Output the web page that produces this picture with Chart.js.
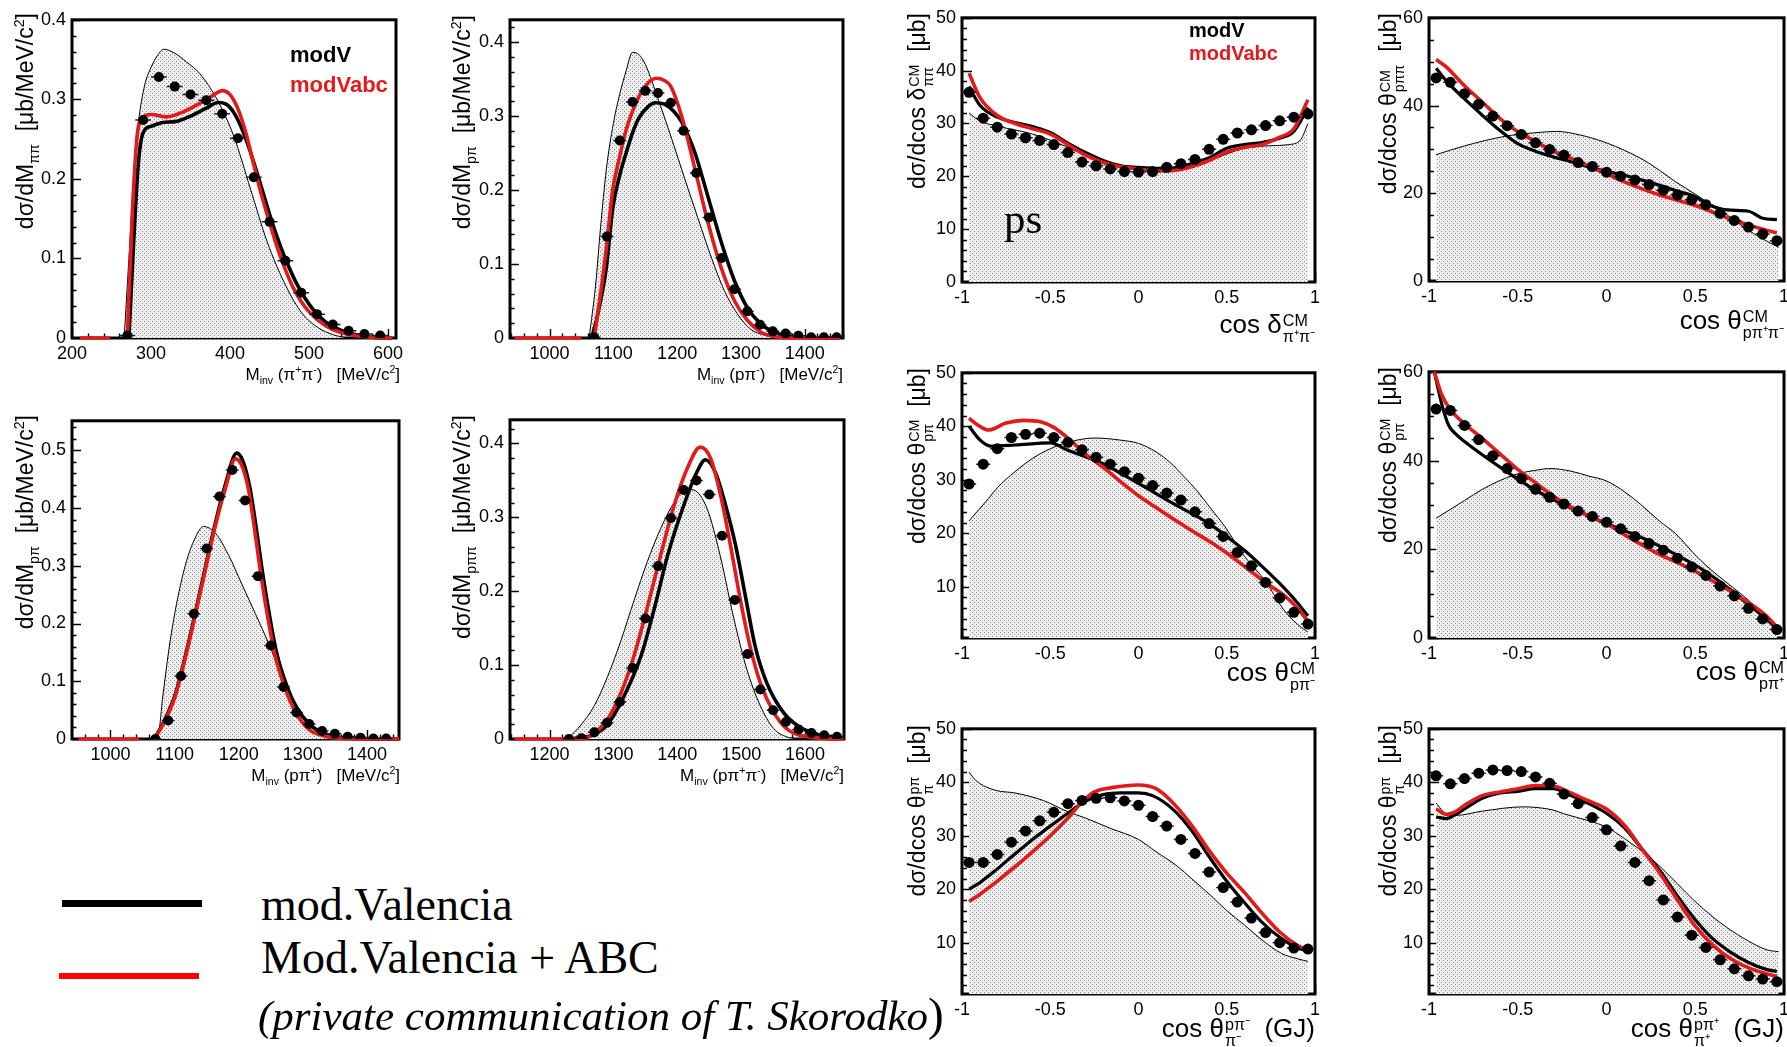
<!DOCTYPE html>
<html>
<head>
<meta charset="utf-8">
<title>pp - two pion production, differential distributions</title>
<script src="https://cdn.jsdelivr.net/npm/chart.js@4.4.1/dist/chart.umd.min.js"></script>
<style>
  body { margin: 0; width: 1787px; height: 1047px; overflow: hidden; position: relative; background: #fff;
         font-family: 'Liberation Sans', Arial, sans-serif; color: #000; }
  canvas { position: absolute; }
  .t { position: absolute; white-space: nowrap; line-height: 1; }
  .yt { transform-origin: 0 0; transform: rotate(-90deg) translateX(-100%); }
  .xr { transform: translateX(-100%); }
  sub, sup { font-size: 0.62em; line-height: 0; }
  .ss { display: inline-block; vertical-align: -0.55em; font-size: 0.62em; line-height: 1; margin-left: 1px; }
  .ss span { display: block; }
  .serif { font-family: 'Liberation Serif', 'Times New Roman', serif; }
  .key { position: absolute; }
</style>
</head>
<body>
<div id="plots"></div>

<!-- y axis titles -->
<div class="t yt" style="left:14px;top:13px;font-size:23px">dσ/dM<sub>ππ</sub>&nbsp;&nbsp;[μb/MeV/c<sup>2</sup>]</div>
<div class="t yt" style="left:451px;top:15px;font-size:23px">dσ/dM<sub>pπ</sub>&nbsp;&nbsp;[μb/MeV/c<sup>2</sup>]</div>
<div class="t yt" style="left:14px;top:415px;font-size:23px">dσ/dM<sub>pπ</sub>&nbsp;&nbsp;[μb/MeV/c<sup>2</sup>]</div>
<div class="t yt" style="left:451px;top:415px;font-size:23px">dσ/dM<sub>pππ</sub>&nbsp;&nbsp;[μb/MeV/c<sup>2</sup>]</div>
<div class="t yt" style="left:906px;top:13px;font-size:23px">dσ/dcos δ<span class="ss"><span>CM</span><span>ππ</span></span>&nbsp;&nbsp;[μb]</div>
<div class="t yt" style="left:1377px;top:13px;font-size:23px">dσ/dcos θ<span class="ss"><span>CM</span><span>pππ</span></span>&nbsp;&nbsp;[μb]</div>
<div class="t yt" style="left:906px;top:368px;font-size:23px">dσ/dcos θ<span class="ss"><span>CM</span><span>pπ</span></span>&nbsp;&nbsp;[μb]</div>
<div class="t yt" style="left:1377px;top:367px;font-size:23px">dσ/dcos θ<span class="ss"><span>CM</span><span>pπ</span></span>&nbsp;&nbsp;[μb]</div>
<div class="t yt" style="left:906px;top:725px;font-size:23px">dσ/dcos θ<span class="ss"><span>pπ</span><span>π</span></span>&nbsp;&nbsp;[μb]</div>
<div class="t yt" style="left:1377px;top:725px;font-size:23px">dσ/dcos θ<span class="ss"><span>pπ</span><span>π</span></span>&nbsp;&nbsp;[μb]</div>

<!-- x axis titles -->
<div class="t xr" style="left:400px;top:366px;font-size:17px">M<sub>inv</sub> (π<sup>+</sup>π<sup>-</sup>)&nbsp;&nbsp;&nbsp;[MeV/c<sup>2</sup>]</div>
<div class="t xr" style="left:843px;top:366px;font-size:17px">M<sub>inv</sub> (pπ<sup>-</sup>)&nbsp;&nbsp;&nbsp;[MeV/c<sup>2</sup>]</div>
<div class="t xr" style="left:400px;top:767px;font-size:17px">M<sub>inv</sub> (pπ<sup>+</sup>)&nbsp;&nbsp;&nbsp;[MeV/c<sup>2</sup>]</div>
<div class="t xr" style="left:844px;top:767px;font-size:17px">M<sub>inv</sub> (pπ<sup>+</sup>π<sup>-</sup>)&nbsp;&nbsp;&nbsp;[MeV/c<sup>2</sup>]</div>
<div class="t xr" style="left:1315px;top:311px;font-size:26px">cos δ<span class="ss"><span>CM</span><span>π⁺π⁻</span></span></div>
<div class="t xr" style="left:1784px;top:307px;font-size:26px">cos θ<span class="ss"><span>CM</span><span>pπ⁺π⁻</span></span></div>
<div class="t xr" style="left:1315px;top:659px;font-size:26px">cos θ<span class="ss"><span>CM</span><span>pπ⁻</span></span></div>
<div class="t xr" style="left:1784px;top:658px;font-size:26px">cos θ<span class="ss"><span>CM</span><span>pπ⁺</span></span></div>
<div class="t xr" style="left:1315px;top:1015px;font-size:26px">cos θ<span class="ss"><span>pπ⁻</span><span>π⁻</span></span>&nbsp;&nbsp;(GJ)</div>
<div class="t xr" style="left:1784px;top:1015px;font-size:26px">cos θ<span class="ss"><span>pπ⁺</span><span>π⁺</span></span>&nbsp;&nbsp;(GJ)</div>

<!-- labels inside the frames -->
<div class="t" style="left:290px;top:44px;font-size:22px;font-weight:bold">modV</div>
<div class="t" style="left:290px;top:74px;font-size:22px;font-weight:bold;color:#e31a1c">modVabc</div>
<div class="t" style="left:1189px;top:20px;font-size:20px;font-weight:bold">modV</div>
<div class="t" style="left:1189px;top:43px;font-size:20px;font-weight:bold;color:#e31a1c">modVabc</div>
<div class="t serif" style="left:1004px;top:197px;font-size:43px">ps</div>

<!-- legend, bottom left -->
<div class="key" style="left:62px;top:900px;width:140px;height:7px;background:#000"></div>
<div class="key" style="left:59px;top:973px;width:140px;height:6px;background:#f00"></div>
<div class="t serif" style="left:261px;top:882px;font-size:46px">mod.Valencia</div>
<div class="t serif" style="left:261px;top:935px;font-size:46px">Mod.Valencia + ABC</div>
<div class="t serif" style="left:258px;top:991px;font-size:43px;font-style:italic">(private communication of T. Skorodko<span style="font-style:normal;font-size:1.1em">)</span></div>

<script>
'use strict';

// ---------------- data ----------------

// panel A : M_inv(pi+ pi-)
var aBins = [270, 290, 310, 330, 350, 370, 390, 410, 430, 450, 470, 490, 510, 530, 550, 570, 590];
var aData = [0.003, 0.274, 0.328, 0.316, 0.306, 0.299, 0.282, 0.251, 0.202, 0.146, 0.097, 0.057, 0.030, 0.017, 0.009, 0.005, 0.003];
var aModV = [[272, 0], [278, 0.12], [284, 0.22], [290, 0.258], [300, 0.266], [315, 0.271], [330, 0.272], [350, 0.279], [370, 0.289],
  [385, 0.296], [395, 0.294], [405, 0.283], [415, 0.263], [425, 0.236], [435, 0.205], [445, 0.172], [455, 0.14], [465, 0.112],
  [475, 0.088], [485, 0.067], [495, 0.05], [505, 0.036], [520, 0.021], [540, 0.01], [560, 0.004], [580, 0.001], [605, 0]];
var aModVabc = [[210, 0], [248, 0], [258, null], [270, 0], [276, 0.15], [282, 0.25], [288, 0.276], [300, 0.281], [320, 0.278],
  [340, 0.284], [360, 0.294], [380, 0.306], [390, 0.311], [400, 0.306], [410, 0.288], [420, 0.258], [430, 0.218], [440, 0.179],
  [450, 0.145], [460, 0.113], [470, 0.086], [480, 0.063], [490, 0.046], [500, 0.033], [520, 0.016], [540, 0.007], [560, 0.003],
  [580, 0.001], [605, 0]];
var aPhaseSpace = [[266, 0], [272, 0.1], [278, 0.2], [284, 0.27], [292, 0.318], [300, 0.34], [308, 0.355], [316, 0.363], [330, 0.358],
  [345, 0.347], [362, 0.332], [384, 0.299], [405, 0.253], [426, 0.187], [447, 0.121], [468, 0.071], [489, 0.034], [510, 0.014],
  [531, 0.004], [548, 0]];
var aTicksX = [200, 300, 400, 500, 600];
var aTicksY = [0, 0.1, 0.2, 0.3, 0.4];

// panel B : M_inv(p pi-)
var bBins = [1070, 1090, 1110, 1130, 1150, 1170, 1190, 1210, 1230, 1250, 1270, 1290, 1310, 1330, 1350, 1370, 1390, 1410, 1430, 1450];
var bData = [0.001, 0.137, 0.267, 0.319, 0.334, 0.331, 0.318, 0.28, 0.223, 0.163, 0.108, 0.066, 0.036, 0.018, 0.009, 0.006, 0.003, 0.001, 0.001, 0.001];
var bModV = [[1066, 0], [1075, 0.03], [1089, 0.095], [1099, 0.175], [1110, 0.22], [1120, 0.25], [1130, 0.277], [1140, 0.297],
  [1155, 0.313], [1166, 0.318], [1180, 0.316], [1195, 0.306], [1207, 0.292], [1218, 0.272], [1228, 0.25], [1248, 0.192],
  [1269, 0.13], [1290, 0.077], [1310, 0.041], [1331, 0.019], [1352, 0.008], [1372, 0.003], [1400, 0.001], [1455, 0]];
var bModVabc = [[945, 0], [1050, 0], [1060, null], [1070, 0], [1080, 0.06], [1089, 0.121], [1099, 0.2], [1110, 0.245], [1120, 0.281],
  [1140, 0.326], [1155, 0.345], [1168, 0.351], [1180, 0.348], [1190, 0.34], [1207, 0.3], [1228, 0.228], [1248, 0.157],
  [1269, 0.095], [1290, 0.05], [1310, 0.024], [1331, 0.008], [1352, 0.002], [1380, 0], [1455, 0]];
var bPhaseSpace = [[1062, 0], [1072, 0.07], [1080, 0.15], [1089, 0.228], [1100, 0.29], [1109, 0.326], [1120, 0.361], [1130, 0.386],
  [1140, 0.383], [1150, 0.37], [1171, 0.321], [1192, 0.268], [1212, 0.215], [1233, 0.161], [1254, 0.108], [1274, 0.064],
  [1295, 0.032], [1315, 0.012], [1336, 0.004], [1355, 0]];
var bTicksX = [1000, 1100, 1200, 1300, 1400];
var bTicksY = [0, 0.1, 0.2, 0.3, 0.4];

// panel C : M_inv(p pi+)
var cBins = [1070, 1090, 1110, 1130, 1150, 1170, 1190, 1210, 1230, 1250, 1270, 1290, 1310, 1330, 1350, 1370, 1390, 1410, 1430];
var cData = [0, 0.032, 0.109, 0.217, 0.33, 0.42, 0.466, 0.413, 0.282, 0.162, 0.09, 0.046, 0.026, 0.014, 0.009, 0.004, 0.002, 0.001, 0.001];
var cModV = [[1068, 0], [1081, 0.025], [1101, 0.077], [1122, 0.168], [1143, 0.272], [1164, 0.376], [1179, 0.44], [1197, 0.495],
  [1207, 0.48], [1218, 0.432], [1228, 0.36], [1238, 0.282], [1249, 0.208], [1259, 0.15], [1275, 0.092], [1290, 0.055],
  [1310, 0.026], [1330, 0.011], [1351, 0.004], [1380, 0.001], [1450, 0]];
var cModVabc = [[950, 0], [1045, 0], [1055, null], [1068, 0], [1081, 0.023], [1101, 0.074], [1122, 0.165], [1143, 0.268],
  [1164, 0.371], [1179, 0.433], [1195, 0.485], [1205, 0.473], [1216, 0.428], [1226, 0.353], [1236, 0.274], [1247, 0.2],
  [1257, 0.143], [1273, 0.086], [1288, 0.048], [1309, 0.017], [1330, 0.006], [1351, 0.002], [1380, 0], [1450, 0]];
var cPhaseSpace = [[1060, 0], [1075, 0.011], [1081, 0.068], [1091, 0.154], [1101, 0.222], [1117, 0.302], [1132, 0.348], [1145, 0.368],
  [1164, 0.356], [1184, 0.319], [1205, 0.268], [1226, 0.217], [1247, 0.165], [1268, 0.108], [1288, 0.063], [1309, 0.029],
  [1330, 0.011], [1351, 0.003], [1372, 0]];
var cTicksX = [1000, 1100, 1200, 1300, 1400];
var cTicksY = [0, 0.1, 0.2, 0.3, 0.4, 0.5];

// panel D : M_inv(p pi+ pi-)
var dBins = [1230, 1250, 1270, 1290, 1310, 1330, 1350, 1370, 1390, 1410, 1430, 1450, 1470, 1490, 1510, 1530, 1550, 1570, 1590, 1610, 1630, 1650];
var dData = [0, 0.001, 0.009, 0.022, 0.05, 0.096, 0.163, 0.234, 0.299, 0.337, 0.35, 0.331, 0.275, 0.188, 0.115, 0.067, 0.039, 0.023, 0.013, 0.008, 0.005, 0.003];
var dModV = [[1230, 0], [1270, 0.006], [1291, 0.02], [1312, 0.05], [1343, 0.112], [1365, 0.18], [1385, 0.249], [1410, 0.316],
  [1430, 0.36], [1444, 0.378], [1460, 0.36], [1475, 0.318], [1491, 0.263], [1508, 0.187], [1522, 0.125], [1540, 0.076],
  [1566, 0.036], [1590, 0.017], [1610, 0.009], [1630, 0.004], [1660, 0.001]];
var dModVabc = [[1145, 0], [1250, 0], [1270, 0.008], [1291, 0.027], [1312, 0.063], [1332, 0.112], [1353, 0.178], [1374, 0.249],
  [1395, 0.316], [1415, 0.365], [1436, 0.395], [1452, 0.38], [1468, 0.329], [1483, 0.263], [1499, 0.187], [1514, 0.125],
  [1530, 0.076], [1551, 0.036], [1571, 0.014], [1592, 0.005], [1613, 0.002], [1640, 0], [1660, 0]];
var dPhaseSpace = [[1228, 0], [1249, 0.019], [1270, 0.045], [1291, 0.085], [1312, 0.134], [1332, 0.187], [1353, 0.24], [1374, 0.285],
  [1395, 0.32], [1415, 0.338], [1426, 0.337], [1447, 0.311], [1468, 0.245], [1488, 0.165], [1509, 0.094], [1530, 0.045],
  [1551, 0.014], [1571, 0.003], [1590, 0]];
var dTicksX = [1200, 1300, 1400, 1500, 1600];
var dTicksY = [0, 0.1, 0.2, 0.3, 0.4];

// angular panels share the same binning in cos
var cosBins = [-0.96, -0.88, -0.8, -0.72, -0.64, -0.56, -0.48, -0.4, -0.32, -0.24, -0.16, -0.08, 0,
  0.08, 0.16, 0.24, 0.32, 0.4, 0.48, 0.56, 0.64, 0.72, 0.8, 0.88, 0.96];
var cosTicks = [-1, -0.5, 0, 0.5, 1];

// panel E : cos delta_pipi (CM)
var eData = [35.9, 31.0, 29.3, 28.0, 27.3, 26.8, 26.0, 24.5, 22.7, 22.0, 21.4, 20.9, 20.8, 20.9, 21.7, 22.4, 23.2, 25.1, 27.0, 28.2, 28.8, 29.6, 30.5, 31.2, 31.8];
var eModV = [[-0.96, 37], [-0.9, 33.5], [-0.8, 31.2], [-0.7, 30.2], [-0.6, 29.4], [-0.5, 28.3], [-0.4, 26.3], [-0.3, 24.5], [-0.2, 23],
  [-0.1, 22], [0, 21.7], [0.1, 21.5], [0.2, 21.6], [0.3, 22.4], [0.4, 23.5], [0.5, 25.3], [0.6, 26], [0.7, 26.4], [0.8, 27.2],
  [0.88, 28.5], [0.96, 33]];
var eModVabc = [[-0.96, 39.5], [-0.9, 35], [-0.8, 31.5], [-0.7, 30], [-0.6, 29], [-0.5, 28], [-0.4, 26], [-0.3, 24], [-0.2, 22.6],
  [-0.1, 21.8], [0, 21.4], [0.1, 21], [0.2, 21.1], [0.3, 21.8], [0.4, 23], [0.5, 24.6], [0.6, 25.5], [0.7, 26], [0.8, 27.4],
  [0.88, 29], [0.96, 34.5]];
var ePhaseSpace = [[-0.96, 32], [-0.9, 30.5], [-0.8, 29.5], [-0.6, 28], [-0.4, 25.5], [-0.2, 22.5], [0, 21.3], [0.2, 21.3], [0.4, 23],
  [0.6, 25.3], [0.75, 25.8], [0.85, 26], [0.92, 27], [0.96, 30]];
var eTicksY = [0, 10, 20, 30, 40, 50];

// panel F : cos theta_p pi pi (CM)
var fData = [46.3, 45.3, 42.7, 40.3, 37.6, 35.4, 33.4, 31.5, 30.0, 28.7, 27.0, 26.1, 24.8, 23.9, 23.0, 22.0, 20.7, 19.6, 18.5, 17.4, 15.4, 13.8, 12.3, 10.7, 9.2];
var fModV = [[-0.96, 48.5], [-0.9, 45.5], [-0.8, 41.5], [-0.7, 37.8], [-0.6, 34.3], [-0.5, 31.3], [-0.4, 29.6], [-0.3, 28.3], [-0.2, 27.2],
  [-0.1, 26], [0, 25], [0.1, 24.1], [0.2, 23], [0.3, 21.8], [0.4, 20.5], [0.5, 19.2], [0.57, 17.5], [0.68, 16.2], [0.8, 15.9],
  [0.88, 14.3], [0.96, 14]];
var fModVabc = [[-0.96, 50.5], [-0.9, 48.7], [-0.8, 44.5], [-0.7, 40.8], [-0.6, 37], [-0.5, 34], [-0.4, 31.8], [-0.3, 29.6], [-0.2, 28],
  [-0.1, 26.2], [0, 24.4], [0.1, 22.6], [0.2, 21], [0.3, 19.6], [0.4, 18.4], [0.5, 17.2], [0.6, 15.7], [0.7, 14.1], [0.8, 12.8],
  [0.9, 11.6], [0.96, 11]];
var fPhaseSpace = [[-0.96, 28.8], [-0.8, 30.8], [-0.57, 33], [-0.4, 33.8], [-0.28, 34.1], [-0.15, 33.3], [0, 31.5], [0.1, 29.8],
  [0.2, 27.8], [0.3, 25.2], [0.39, 22.6], [0.5, 19.8], [0.59, 17.4], [0.7, 14.5], [0.78, 12.1], [0.88, 9.6], [0.97, 7.7]];
var fTicksY = [0, 20, 40, 60];

// panel G : cos theta_p pi- (CM)
var gData = [29.2, 32.9, 35.8, 37.9, 38.5, 38.7, 37.9, 37.0, 35.6, 34.2, 32.9, 31.5, 30.3, 28.9, 27.5, 26.2, 24.0, 21.8, 19.4, 16.4, 13.9, 10.8, 7.9, 5.2, 3.0];
var gModV = [[-0.96, 40], [-0.9, 37.5], [-0.84, 36.3], [-0.7, 36.5], [-0.5, 36.9], [-0.4, 35.5], [-0.3, 34.3], [-0.2, 33], [-0.1, 31.2],
  [0, 29.3], [0.1, 27.4], [0.2, 25.5], [0.3, 23.7], [0.4, 21.8], [0.5, 19.4], [0.6, 16.8], [0.7, 13.8], [0.8, 10.6], [0.9, 7],
  [0.96, 4.5]];
var gModVabc = [[-0.96, 41.5], [-0.9, 40], [-0.85, 39.3], [-0.75, 40.6], [-0.65, 41.1], [-0.55, 40.8], [-0.48, 39.8], [-0.4, 37.8],
  [-0.3, 34.8], [-0.2, 32.3], [-0.1, 29.6], [0, 27], [0.1, 24.8], [0.2, 22.6], [0.3, 20.5], [0.41, 18.3], [0.5, 16.3], [0.6, 13.8],
  [0.73, 10.5], [0.82, 8.5], [0.9, 6], [0.96, 3.5]];
var gPhaseSpace = [[-0.96, 22.3], [-0.85, 26.5], [-0.8, 28.5], [-0.7, 31.5], [-0.6, 34], [-0.5, 35.8], [-0.4, 37], [-0.25, 37.8],
  [-0.1, 37.4], [0, 36.8], [0.1, 35.2], [0.18, 33.2], [0.26, 30.5], [0.33, 28], [0.41, 24.6], [0.49, 21.2], [0.6, 15.7],
  [0.72, 11], [0.82, 5.8], [0.9, 3], [0.96, 1.5]];
var gTicksY = [10, 20, 30, 40, 50];

// panel H : cos theta_p pi+ (CM)
var hData = [51.6, 51.3, 47.9, 44.7, 41.1, 38.2, 35.9, 33.5, 31.7, 30.2, 28.6, 27.4, 26.1, 24.6, 22.9, 21.3, 19.8, 18.0, 16.0, 14.1, 11.7, 9.5, 6.7, 4.3, 1.9];
var hModV = [[-0.97, 60], [-0.93, 53], [-0.89, 48], [-0.85, 46], [-0.8, 44.3], [-0.7, 41.3], [-0.6, 38.5], [-0.5, 35.8], [-0.4, 33.3],
  [-0.3, 31.2], [-0.2, 29.3], [-0.1, 27.6], [0, 25.8], [0.1, 24.2], [0.2, 22.6], [0.3, 20.7], [0.4, 18.6], [0.5, 16.4], [0.6, 13.8],
  [0.7, 10.8], [0.8, 7.5], [0.9, 4.3], [0.96, 2]];
var hModVabc = [[-0.97, 60], [-0.93, 55], [-0.88, 51.5], [-0.8, 48.3], [-0.7, 45], [-0.6, 41.5], [-0.5, 38], [-0.4, 35], [-0.3, 32],
  [-0.2, 29.5], [-0.1, 27.5], [0, 25.7], [0.1, 23.3], [0.2, 21], [0.3, 18.8], [0.4, 17], [0.5, 15], [0.6, 12.8], [0.7, 10.5],
  [0.8, 8], [0.9, 5], [0.96, 2.5]];
var hPhaseSpace = [[-0.96, 27], [-0.9, 28.5], [-0.8, 31], [-0.7, 33.5], [-0.6, 35.5], [-0.5, 37], [-0.4, 37.8], [-0.32, 38.2],
  [-0.2, 37.6], [-0.1, 36.5], [0, 35.4], [0.1, 33], [0.19, 30.2], [0.3, 26.3], [0.39, 23.5], [0.51, 18.3], [0.6, 15], [0.68, 12.4],
  [0.8, 8.5], [0.9, 4.5], [0.96, 2]];
var hTicksY = [0, 20, 40, 60];

// panel I : cos theta_pi- (Gottfried-Jackson, p pi- frame)
var iData = [25.0, 25.0, 26.5, 28.8, 30.9, 32.8, 34.4, 36.0, 36.6, 37.0, 37.1, 36.5, 35.7, 33.6, 31.8, 29.3, 26.7, 23.2, 20.3, 17.6, 14.6, 11.9, 10.0, 9.0, 8.8];
var iModV = [[-0.96, 20], [-0.9, 21.2], [-0.8, 23.8], [-0.7, 26.6], [-0.6, 29.3], [-0.5, 31.8], [-0.4, 34.2], [-0.3, 36.5], [-0.2, 37.7],
  [-0.1, 38], [0, 38], [0.08, 37.5], [0.2, 34.8], [0.3, 31], [0.41, 25.6], [0.5, 21.5], [0.6, 17.5], [0.7, 13.8], [0.8, 11],
  [0.9, 9], [0.96, 8.5]];
var iModVabc = [[-0.96, 17.7], [-0.9, 19], [-0.8, 21.5], [-0.7, 24.2], [-0.6, 27], [-0.5, 30], [-0.4, 33.3], [-0.32, 36.3],
  [-0.25, 38.2], [-0.15, 39], [0, 39.5], [0.1, 38.8], [0.2, 36], [0.3, 32], [0.41, 26.8], [0.5, 23], [0.6, 19.4], [0.7, 15.5],
  [0.8, 12], [0.9, 9.5], [0.96, 8.5]];
var iPhaseSpace = [[-0.96, 41.9], [-0.92, 40.3], [-0.81, 38.5], [-0.7, 38], [-0.54, 36.6], [-0.4, 34.5], [-0.3, 33.3], [-0.16, 31.4],
  [0, 29.3], [0.1, 27], [0.22, 24.3], [0.3, 22], [0.41, 18.8], [0.5, 16], [0.6, 13.3], [0.7, 10.5], [0.81, 8], [0.9, 7], [0.96, 6.5]];
var iTicksY = [10, 20, 30, 40, 50];

// panel J : cos theta_pi+ (Gottfried-Jackson, p pi+ frame)
var jData = [41.2, 39.7, 40.7, 41.7, 42.3, 42.2, 42.0, 41.0, 39.8, 37.8, 36.0, 33.4, 31.1, 28.1, 25.0, 21.6, 18.0, 14.8, 11.4, 9.1, 6.8, 5.1, 3.8, 3.2, 2.7];
var jModV = [[-0.96, 33.5], [-0.9, 33.2], [-0.85, 34], [-0.8, 35], [-0.7, 37], [-0.6, 38], [-0.5, 38.3], [-0.4, 38.8], [-0.3, 38.8],
  [-0.2, 37.5], [-0.1, 36], [0, 34.2], [0.1, 31.5], [0.2, 27.5], [0.3, 23.5], [0.4, 18.7], [0.5, 14.3], [0.6, 10.7], [0.7, 8.2],
  [0.8, 6.3], [0.9, 5], [0.96, 4.6]];
var jModVabc = [[-0.96, 35], [-0.9, 34], [-0.85, 34.5], [-0.8, 35.7], [-0.7, 37.5], [-0.6, 38.2], [-0.5, 38.8], [-0.4, 39.4],
  [-0.3, 39.3], [-0.2, 38], [-0.1, 36.5], [0, 35], [0.1, 32], [0.2, 27.5], [0.3, 23], [0.4, 18], [0.5, 13.1], [0.6, 9.5], [0.7, 7],
  [0.8, 5.3], [0.9, 4.2], [0.96, 3.7]];
var jPhaseSpace = [[-0.96, 36.1], [-0.9, 34], [-0.85, 33.8], [-0.7, 34.6], [-0.47, 35.4], [-0.3, 34.8], [-0.24, 34.1], [-0.1, 32.8],
  [0, 31.6], [0.1, 29.5], [0.26, 25.5], [0.4, 21], [0.49, 18], [0.6, 14.8], [0.68, 12.8], [0.8, 10.3], [0.9, 8.7], [0.97, 8.3]];
var jTicksY = [10, 20, 30, 40, 50];

// ---------------- drawing ----------------

var RED = '#e31a1c';
var NARROW = "'Liberation Sans Narrow', 'Liberation Sans', Arial, sans-serif";
var SANS = "'Liberation Sans', Arial, sans-serif";

// box = plot frame [left, top, right, bottom] in page pixels
// minor = [x major, x minor, y major, y minor] tick steps
var panels = [
  {box: [72, 15, 396, 338], xr: [200, 610], yr: [0, 0.4], tx: aTicksX, ty: aTicksY, minor: [100, 20, 0.1, 0.02],
    bins: aBins, data: aData, modV: aModV, abc: aModVabc, ps: aPhaseSpace, mass: true},
  {box: [510, 15, 843, 338], xr: [938, 1460], yr: [0, 0.43], tx: bTicksX, ty: bTicksY, minor: [100, 20, 0.1, 0.02],
    bins: bBins, data: bData, modV: bModV, abc: bModVabc, ps: bPhaseSpace, mass: true},
  {box: [72, 416, 399, 739], xr: [940, 1450], yr: [0, 0.551], tx: cTicksX, ty: cTicksY, minor: [100, 20, 0.1, 0.02],
    bins: cBins, data: cData, modV: cModV, abc: cModVabc, ps: cPhaseSpace, mass: true},
  {box: [510, 415, 844, 739], xr: [1138, 1661], yr: [0, 0.432], tx: dTicksX, ty: dTicksY, minor: [100, 20, 0.1, 0.02],
    bins: dBins, data: dData, modV: dModV, abc: dModVabc, ps: dPhaseSpace, mass: true},
  {box: [962, 13, 1315, 282], xr: [-1, 1], yr: [0, 50], tx: cosTicks, ty: eTicksY, minor: [0.5, 0.1, 10, 2],
    bins: cosBins, data: eData, modV: eModV, abc: eModVabc, ps: ePhaseSpace},
  {box: [1429, 13, 1784, 281], xr: [-1, 1], yr: [0, 60], tx: cosTicks, ty: fTicksY, minor: [0.5, 0.1, 20, 5],
    bins: cosBins, data: fData, modV: fModV, abc: fModVabc, ps: fPhaseSpace},
  {box: [962, 368, 1315, 638], xr: [-1, 1], yr: [0.4, 50], tx: cosTicks, ty: gTicksY, minor: [0.5, 0.1, 10, 2],
    bins: cosBins, data: gData, modV: gModV, abc: gModVabc, ps: gPhaseSpace},
  {box: [1429, 367, 1784, 638], xr: [-1, 1], yr: [0, 60], tx: cosTicks, ty: hTicksY, minor: [0.5, 0.1, 20, 5],
    bins: cosBins, data: hData, modV: hModV, abc: hModVabc, ps: hPhaseSpace},
  {box: [962, 724, 1315, 994], xr: [-1, 1], yr: [0.4, 50], tx: cosTicks, ty: iTicksY, minor: [0.5, 0.1, 10, 2],
    bins: cosBins, data: iData, modV: iModV, abc: iModVabc, ps: iPhaseSpace},
  {box: [1429, 724, 1784, 994], xr: [-1, 1], yr: [0.4, 50], tx: cosTicks, ty: jTicksY, minor: [0.5, 0.1, 10, 2],
    bins: cosBins, data: jData, modV: jModV, abc: jModVabc, ps: jPhaseSpace}
];

function toPoints(pairs) {
  return pairs.map(function (p) { return {x: p[0], y: p[1]}; });
}

function fmt(v) {
  return String(Math.round(v * 1000) / 1000);
}

// dotted grey fill like the ROOT phase space histogram
function dotPattern(ctx) {
  var tile = document.createElement('canvas');
  tile.width = 4;
  tile.height = 4;
  var g = tile.getContext('2d');
  g.fillStyle = '#efefef';
  g.fillRect(0, 0, 4, 4);
  g.fillStyle = '#8a8a8a';
  g.fillRect(0, 0, 1, 1);
  g.fillRect(2, 2, 1, 1);
  return ctx.createPattern(tile, 'repeat');
}

// thick frame, inward ticks on left/bottom axes, horizontal error bars
var rootStyle = {
  id: 'rootStyle',
  beforeDatasetsDraw: function (chart, args, o) {
    var ctx = chart.ctx, a = chart.chartArea;
    var xs = chart.scales.x, ys = chart.scales.y;
    var n, k, px, len;
    ctx.save();
    ctx.strokeStyle = '#000';
    ctx.lineWidth = 1.4;
    ctx.beginPath();
    k = Math.round(o.steps[0] / o.steps[1]);
    for (n = Math.ceil(xs.min / o.steps[1] - 1e-6); n * o.steps[1] <= xs.max + 1e-9; n++) {
      px = Math.round(xs.getPixelForValue(n * o.steps[1])) + 0.5;
      len = (n % k === 0) ? o.tick : o.tick / 2;
      ctx.moveTo(px, a.bottom);
      ctx.lineTo(px, a.bottom - len);
    }
    k = Math.round(o.steps[2] / o.steps[3]);
    for (n = Math.ceil(ys.min / o.steps[3] - 1e-6); n * o.steps[3] <= ys.max + 1e-9; n++) {
      px = Math.round(ys.getPixelForValue(n * o.steps[3])) + 0.5;
      len = (n % k === 0) ? o.tick : o.tick / 2;
      ctx.moveTo(a.left, px);
      ctx.lineTo(a.left + len, px);
    }
    ctx.stroke();
    ctx.lineWidth = 3;
    ctx.strokeRect(a.left, a.top, a.right - a.left, a.bottom - a.top);
    ctx.restore();
  },
  beforeDatasetDraw: function (chart, args) {
    var ds = chart.data.datasets[args.index];
    if (!ds.errX) return;
    var ctx = chart.ctx, xs = chart.scales.x, ys = chart.scales.y;
    ctx.save();
    ctx.strokeStyle = '#1d1d45';
    ctx.lineWidth = 1.5;
    ctx.beginPath();
    ds.data.forEach(function (d) {
      var py = ys.getPixelForValue(d.y);
      ctx.moveTo(xs.getPixelForValue(d.x - ds.errX), py);
      ctx.lineTo(xs.getPixelForValue(d.x + ds.errX), py);
    });
    ctx.stroke();
    ctx.restore();
  }
};

function makePanel(p) {
  var padL = 70, padT = 12, padR = 16, padB = 34;
  var w = p.box[2] - p.box[0], h = p.box[3] - p.box[1];
  var canvas = document.createElement('canvas');
  canvas.width = w + padL + padR;
  canvas.height = h + padT + padB;
  canvas.style.left = (p.box[0] - padL) + 'px';
  canvas.style.top = (p.box[1] - padT) + 'px';
  document.getElementById('plots').appendChild(canvas);
  var ctx = canvas.getContext('2d');

  var points = p.bins.map(function (x, i) { return {x: x, y: p.data[i]}; });
  var tickFont = {family: p.mass ? NARROW : SANS, size: 18};

  new Chart(ctx, {
    type: 'scatter',
    data: {
      datasets: [
        {label: 'data', data: points, pointRadius: p.mass ? 5 : 5.5, pointBackgroundColor: '#000',
          pointBorderColor: '#000', pointBorderWidth: 0, errX: p.mass ? 10 : 0.04, order: 0},
        {label: 'modVabc', data: toPoints(p.abc), showLine: true, borderColor: RED, borderWidth: 3.6,
          pointRadius: 0, cubicInterpolationMode: 'monotone', clip: 4, order: 1},
        {label: 'modV', data: toPoints(p.modV), showLine: true, borderColor: '#000', borderWidth: p.mass ? 3.6 : 3.2,
          pointRadius: 0, cubicInterpolationMode: 'monotone', clip: 4, order: 2},
        {label: 'phase space', data: toPoints(p.ps), showLine: true, borderColor: '#000', borderWidth: 1,
          pointRadius: 0, cubicInterpolationMode: 'monotone', fill: 'origin', backgroundColor: dotPattern(ctx), order: 3}
      ]
    },
    options: {
      responsive: false,
      animation: false,
      events: [],
      layout: {padding: {top: padT, right: padR, left: 0, bottom: 0}},
      plugins: {
        legend: {display: false},
        tooltip: {enabled: false},
        rootStyle: {steps: p.minor, tick: p.mass ? 9 : 10}
      },
      scales: {
        x: {
          type: 'linear', min: p.xr[0], max: p.xr[1],
          grid: {display: false, drawTicks: false}, border: {display: false},
          ticks: {font: tickFont, color: '#000', padding: 5, maxRotation: 0, autoSkip: false, callback: fmt},
          afterBuildTicks: function (s) { s.ticks = p.tx.map(function (v) { return {value: v}; }); },
          afterFit: function (s) { s.height = padB; }
        },
        y: {
          type: 'linear', min: p.yr[0], max: p.yr[1],
          grid: {display: false, drawTicks: false}, border: {display: false},
          ticks: {font: tickFont, color: '#000', padding: 6, autoSkip: false, callback: fmt},
          afterBuildTicks: function (s) { s.ticks = p.ty.map(function (v) { return {value: v}; }); },
          afterFit: function (s) { s.width = padL; }
        }
      }
    },
    plugins: [rootStyle]
  });
}

panels.forEach(makePanel);
</script>
</body>
</html>
